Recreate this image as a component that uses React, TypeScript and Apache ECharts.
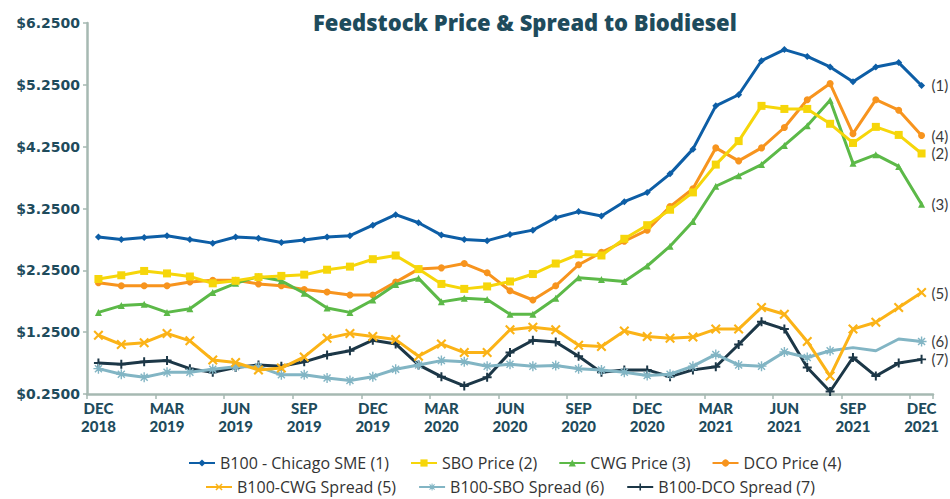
import React, { useEffect, useRef } from 'react';
import * as echarts from 'echarts';

const MONTHS = [
  'DEC 2018', 'JAN 2019', 'FEB 2019', 'MAR 2019', 'APR 2019', 'MAY 2019', 'JUN 2019', 'JUL 2019', 'AUG 2019',
  'SEP 2019', 'OCT 2019', 'NOV 2019', 'DEC 2019', 'JAN 2020', 'FEB 2020', 'MAR 2020', 'APR 2020', 'MAY 2020',
  'JUN 2020', 'JUL 2020', 'AUG 2020', 'SEP 2020', 'OCT 2020', 'NOV 2020', 'DEC 2020', 'JAN 2021', 'FEB 2021',
  'MAR 2021', 'APR 2021', 'MAY 2021', 'JUN 2021', 'JUL 2021', 'AUG 2021', 'SEP 2021', 'OCT 2021', 'NOV 2021',
  'DEC 2021',
];

const B100_SME = [2.79, 2.75, 2.78, 2.81, 2.75, 2.69, 2.79, 2.77, 2.70, 2.74, 2.79, 2.81, 2.98, 3.15, 3.02, 2.82, 2.75, 2.73, 2.83, 2.90, 3.10, 3.20, 3.13, 3.36, 3.51, 3.81, 4.21, 4.91, 5.09, 5.64, 5.82, 5.71, 5.54, 5.30, 5.54, 5.61, 5.24];
const SBO_PRICE = [2.11, 2.17, 2.24, 2.20, 2.15, 2.04, 2.08, 2.14, 2.16, 2.18, 2.26, 2.31, 2.43, 2.49, 2.27, 2.03, 1.95, 1.99, 2.07, 2.19, 2.36, 2.51, 2.49, 2.76, 2.98, 3.23, 3.51, 3.96, 4.34, 4.91, 4.86, 4.86, 4.62, 4.31, 4.57, 4.44, 4.14];
const CWG_PRICE = [1.57, 1.68, 1.70, 1.57, 1.63, 1.89, 2.04, 2.15, 2.08, 1.88, 1.64, 1.57, 1.77, 2.02, 2.12, 1.74, 1.80, 1.78, 1.54, 1.54, 1.80, 2.13, 2.10, 2.07, 2.32, 2.64, 3.04, 3.61, 3.78, 3.96, 4.27, 4.59, 5.00, 3.98, 4.12, 3.93, 3.32];
const DCO_PRICE = [2.05, 2.00, 2.00, 2.00, 2.06, 2.09, 2.09, 2.03, 2.00, 1.94, 1.90, 1.85, 1.85, 2.06, 2.27, 2.29, 2.36, 2.21, 1.92, 1.77, 2.00, 2.34, 2.54, 2.72, 2.90, 3.28, 3.57, 4.23, 4.02, 4.23, 4.56, 5.01, 5.27, 4.46, 5.01, 4.84, 4.43];
const CWG_SPREAD = [1.20, 1.05, 1.08, 1.23, 1.11, 0.80, 0.76, 0.64, 0.67, 0.85, 1.15, 1.23, 1.18, 1.13, 0.86, 1.06, 0.92, 0.92, 1.29, 1.33, 1.29, 1.04, 1.02, 1.27, 1.18, 1.15, 1.17, 1.30, 1.30, 1.65, 1.54, 1.10, 0.54, 1.30, 1.41, 1.65, 1.89];
const SBO_SPREAD = [0.66, 0.57, 0.52, 0.60, 0.60, 0.65, 0.69, 0.69, 0.56, 0.56, 0.51, 0.47, 0.53, 0.65, 0.72, 0.79, 0.77, 0.70, 0.73, 0.70, 0.71, 0.66, 0.64, 0.60, 0.55, 0.57, 0.70, 0.89, 0.72, 0.70, 0.93, 0.84, 0.95, 1.00, 0.95, 1.14, 1.10];
const DCO_SPREAD = [0.75, 0.73, 0.77, 0.79, 0.66, 0.60, 0.68, 0.72, 0.70, 0.77, 0.88, 0.95, 1.12, 1.06, 0.72, 0.53, 0.38, 0.52, 0.92, 1.12, 1.09, 0.86, 0.60, 0.64, 0.64, 0.53, 0.64, 0.69, 1.05, 1.42, 1.30, 0.68, 0.29, 0.84, 0.54, 0.75, 0.81];
// points of the SBO spread line drawn without a marker in the source
const SBO_SPREAD_NO_MARK = [33, 34, 35];

const Y_MIN = 0.25;
const Y_MAX = 6.25;
const Y_STEP = 1;

const TITLE = 'Feedstock Price & Spread to Biodiesel';

const X_PATH = 'path://M0,1.5 L1.5,0 L5,3.5 L8.5,0 L10,1.5 L6.5,5 L10,8.5 L8.5,10 L5,6.5 L1.5,10 L0,8.5 L3.5,5 Z';
const PLUS_PATH = 'path://M3.9,0 H6.1 V3.9 H10 V6.1 H6.1 V10 H3.9 V6.1 H0 V3.9 H3.9 Z';
const ASTER_PATH =
  'path://M4.3,0 H5.7 V4.3 H10 V5.7 H5.7 V10 H4.3 V5.7 H0 V4.3 H4.3 Z M1,2 L2,1 L5,4 L8,1 L9,2 L6,5 L9,8 L8,9 L5,6 L2,9 L1,8 L4,5 Z';

const FONT = 'Lato, "Open Sans", sans-serif';
const LEGEND_FONT = '"Open Sans", Lato, sans-serif';
const TITLE_FONT = '"Open Sans", Lato, sans-serif';
const YLAB_FONT = '"DejaVu Sans", sans-serif';
const XLAB_FONT = 'Lato, "Open Sans", sans-serif';
const DARK = '#1e4b5c';
const AXIS = '#a6b9b2';

type Def = {
  name: string;
  values: number[];
  color: string;
  symbol: string;
  size: number;
  width: number;
  end: string;
  noMark?: number[];
};

const DEFS: Def[] = [
  { name: 'B100 - Chicago SME (1)', values: B100_SME, color: '#0d5ea6', symbol: 'diamond', size: 7, width: 3, end: '(1)' },
  { name: 'SBO Price (2)', values: SBO_PRICE, color: '#f6d60a', symbol: 'rect', size: 8, width: 3, end: '(2)' },
  { name: 'CWG Price (3)', values: CWG_PRICE, color: '#5cb948', symbol: 'triangle', size: 7, width: 3, end: '(3)' },
  { name: 'DCO Price (4)', values: DCO_PRICE, color: '#f7941e', symbol: 'circle', size: 7, width: 3, end: '(4)' },
  { name: 'B100-CWG Spread (5)', values: CWG_SPREAD, color: '#fbb317', symbol: X_PATH, size: 10, width: 3, end: '(5)' },
  { name: 'B100-SBO Spread (6)', values: SBO_SPREAD, color: '#82b5c4', symbol: ASTER_PATH, size: 10, width: 3, end: '(6)', noMark: SBO_SPREAD_NO_MARK },
  { name: 'B100-DCO Spread (7)', values: DCO_SPREAD, color: '#1c3747', symbol: PLUS_PATH, size: 9, width: 3, end: '(7)' },
];

export default function App() {
  const ref = useRef<HTMLDivElement>(null);

  useEffect(() => {
    if (!ref.current) return;
    const chart = echarts.init(ref.current, undefined, { renderer: 'svg' });

    const series = DEFS.map((d, idx) => ({
      name: d.name,
      type: 'line',
      data: d.values.map((v, i) =>
        d.noMark && d.noMark.includes(i) ? { value: v, symbol: 'none' } : v
      ),
      symbol: d.symbol,
      symbolSize: d.size,
      showAllSymbol: true,
      color: d.color,
      lineStyle: { color: d.color, width: d.width },
      itemStyle: { color: d.color },
      emphasis: { disabled: true },
      endLabel: {
        show: true,
        formatter: d.end,
        distance: 10,
        color: '#3a3a3a',
        fontSize: 15,
        fontFamily: FONT,
      },
      z: 10 - idx,
    }));

    const legendCommon = {
      itemWidth: 26,
      itemHeight: 9,
      padding: 0,
      textStyle: { fontSize: 16, color: '#333', fontFamily: LEGEND_FONT },
    };

    chart.setOption({
      animation: false,
      backgroundColor: '#ffffff',
      title: {
        text: TITLE,
        left: 308,
        top: 6,
        textStyle: { fontSize: 22, fontWeight: 800, color: DARK, fontFamily: TITLE_FONT },
      },
      legend: [
        { ...legendCommon, left: 188, top: 455, itemGap: 21, data: DEFS.slice(0, 4).map((d) => d.name) },
        { ...legendCommon, left: 205, top: 479, itemGap: 22, data: DEFS.slice(4).map((d) => d.name) },
      ],
      grid: { left: 87, right: 17, top: 23, bottom: 105, containLabel: false },
      xAxis: {
        type: 'category',
        data: MONTHS,
        boundaryGap: true,
        axisLine: { show: true, lineStyle: { color: AXIS, width: 2.5 } },
        axisTick: { show: true, interval: 2, length: 5, lineStyle: { color: AXIS, width: 1.5 } },
        axisLabel: {
          interval: 2,
          formatter: (v: string) => v.replace(' ', '\n'),
          fontSize: 15,
          lineHeight: 18,
          fontWeight: 900,
          color: DARK,
          fontFamily: XLAB_FONT,
          margin: 5,
        },
        splitLine: { show: false },
      },
      yAxis: {
        type: 'value',
        min: Y_MIN,
        max: Y_MAX,
        interval: Y_STEP,
        axisLine: { show: true, lineStyle: { color: AXIS, width: 2.5 } },
        axisTick: { show: true, length: 4, lineStyle: { color: AXIS, width: 1.5 } },
        axisLabel: {
          formatter: (v: number) => '$' + v.toFixed(4),
          fontSize: 14,
          fontWeight: 'bold',
          color: DARK,
          fontFamily: YLAB_FONT,
          margin: 7,
        },
        splitLine: { show: false },
      },
      series,
    });

    return () => chart.dispose();
  }, []);

  return (
    <div
      ref={ref}
      style={{ position: 'fixed', left: 0, top: 0, width: 950, height: 499, background: '#fff' }}
    />
  );
}
